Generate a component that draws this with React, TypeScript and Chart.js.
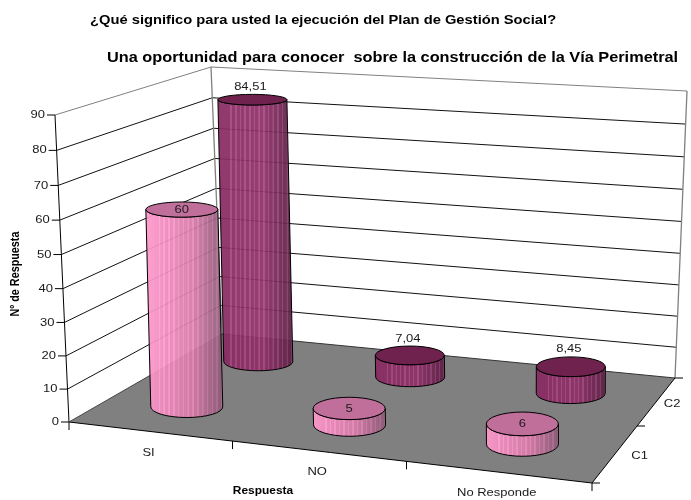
import React, { useEffect, useRef } from "react";
import { Chart, registerables } from "chart.js";

Chart.register(...registerables);

const TITLE = "¿Qué significo para usted la ejecución del Plan de Gestión Social?";
const SUBTITLE = "Una oportunidad para conocer  sobre la construcción de la Vía Perimetral";
const CATEGORIES = ["SI", "NO", "No Responde"];
const C1_VALUES = [60, 5, 6];
const C2_VALUES = [84.51, 7.04, 8.45];
const X_TITLE = "Respuesta";
const Y_TITLE = "Nº de Respuesta";
const FONT = '"Liberation Sans", Arial, sans-serif';
const TEXT_STRETCH = 1.15;

type Pt = [number, number];
const FLOOR: Pt[] = [[69, 422], [592, 483], [675, 378], [222, 334]];
const CEIL: Pt[] = [[55, 115], [598, 153], [687, 91], [211, 67]];
const DEPTH = [0.24, 0.74];
const DEPTH_LABEL_DX = [25, 16];
const BAR_RX = [36, 34.5];
const BAR_DV = 0.22;
const BAR_DU_SHIFT = -0.003;
const BAR_TILT = 0.5;
const W_PERSPECTIVE = 0.04;

function homography(q: Pt[]) {
  const [[x0, y0], [x1, y1], [x2, y2], [x3, y3]] = q;
  const dx1 = x1 - x2, dx2 = x3 - x2, sx = x0 - x1 + x2 - x3;
  const dy1 = y1 - y2, dy2 = y3 - y2, sy = y0 - y1 + y2 - y3;
  const den = dx1 * dy2 - dx2 * dy1;
  const g = (sx * dy2 - dx2 * sy) / den;
  const h = (dx1 * sy - sx * dy1) / den;
  const a = x1 - x0 + g * x1, b = x3 - x0 + h * x3;
  const d = y1 - y0 + g * y1, e = y3 - y0 + h * y3;
  return (u: number, v: number): Pt => {
    const w = g * u + h * v + 1;
    return [(a * u + b * v + x0) / w, (d * u + e * v + y0) / w];
  };
}
const H0 = homography(FLOOR);
const H1 = homography(CEIL);
const P = (u: number, v: number, w0: number): Pt => {
  const w = (w0 * (1 - W_PERSPECTIVE)) / (1 - W_PERSPECTIVE * w0);
  const a = H0(u, v), b = H1(u, v);
  return [a[0] + (b[0] - a[0]) * w, a[1] + (b[1] - a[1]) * w];
};

function line(ctx: CanvasRenderingContext2D, a: Pt, b: Pt, color: string, lw = 1) {
  ctx.strokeStyle = color;
  ctx.lineWidth = lw;
  ctx.beginPath();
  ctx.moveTo(a[0], a[1]);
  ctx.lineTo(b[0], b[1]);
  ctx.stroke();
}
function poly(ctx: CanvasRenderingContext2D, pts: Pt[], fill: string) {
  ctx.fillStyle = fill;
  ctx.beginPath();
  pts.forEach((p, i) => (i ? ctx.lineTo(p[0], p[1]) : ctx.moveTo(p[0], p[1])));
  ctx.closePath();
  ctx.fill();
}
function text(ctx: CanvasRenderingContext2D, s: string, x: number, y: number, font: string, align: CanvasTextAlign = "center", color = "#1a1a1a", rotate = 0) {
  ctx.save();
  ctx.font = font;
  ctx.fillStyle = color;
  ctx.textAlign = align;
  ctx.textBaseline = "middle";
  ctx.translate(x, y);
  ctx.scale(TEXT_STRETCH, 1);
  ctx.rotate(rotate);
  ctx.fillText(s, 0, 0);
  ctx.restore();
}

type Ramp = { left: number[]; mid: number[]; right: number[]; top: string; streak: number };
const RAMPS: Ramp[] = [
  { left: [255, 152, 204], mid: [214, 122, 168], right: [140, 88, 118], top: "#c06f9b", streak: 16 },
  { left: [136, 42, 98], mid: [142, 48, 104], right: [92, 30, 68], top: "#6f224d", streak: 24 },
];
function rampColor(r: Ramp, t: number, extra = 0) {
  const [a, b, k] = t < 0.6 ? [r.left, r.mid, t / 0.6] : [r.mid, r.right, (t - 0.6) / 0.4];
  const c = a.map((v, i) => Math.min(255, Math.round(v + (b[i] - v) * k + extra)));
  return `rgb(${c[0]},${c[1]},${c[2]})`;
}

function cylinder(ctx: CanvasRenderingContext2D, u0: number, v: number, w: number, ramp: Ramp, rx: number) {
  const u = u0 + BAR_DU_SHIFT;
  const base = P(u, v, 0);
  const ell = (wv: number) => {
    const c = P(u, v, wv);
    const n = P(u, v - BAR_DV / 2, wv), f = P(u, v + BAR_DV / 2, wv);
    return { x: base[0] + (c[0] - base[0]) * BAR_TILT, y: c[1], rx, ry: Math.abs(n[1] - f[1]) / 2 };
  };
  const b = ell(0), t = ell(w);
  const x0 = Math.min(b.x - b.rx, t.x - t.rx), x1 = Math.max(b.x + b.rx, t.x + t.rx);
  const g = ctx.createLinearGradient(x0, 0, x1, 0);
  const N = 16;
  for (let i = 0; i < N; i++) {
    const s = i / N, e = (i + 1) / N;
    const hi = ramp.streak * (s < 0.08 ? 0 : 1);
    g.addColorStop(s, rampColor(ramp, s));
    g.addColorStop(e - 0.022, rampColor(ramp, e - 0.022));
    g.addColorStop(e - 0.02, rampColor(ramp, e - 0.02, hi));
    g.addColorStop(e - 0.001, rampColor(ramp, e - 0.001, hi));
  }
  const side = () => {
    ctx.beginPath();
    ctx.moveTo(t.x - t.rx, t.y);
    ctx.lineTo(b.x - b.rx, b.y);
    ctx.ellipse(b.x, b.y, b.rx, b.ry, 0, Math.PI, 0, true);
    ctx.lineTo(t.x + t.rx, t.y);
    ctx.ellipse(t.x, t.y, t.rx, t.ry, 0, 0, Math.PI, false);
    ctx.closePath();
  };
  ctx.save();
  ctx.globalAlpha = 0.93;
  ctx.fillStyle = g;
  side();
  ctx.fill();
  ctx.restore();
  ctx.strokeStyle = "#000";
  ctx.lineWidth = 1;
  side();
  ctx.stroke();
  ctx.fillStyle = ramp.top;
  ctx.beginPath();
  ctx.ellipse(t.x, t.y, t.rx, t.ry, 0, 0, Math.PI * 2);
  ctx.fill();
  ctx.stroke();
  return t;
}

const scene3d = {
  id: "scene3d",
  beforeDatasetsDraw(chart: any) {
    const ctx: CanvasRenderingContext2D = chart.ctx;
    const xs = chart.scales.x, ys = chart.scales.y;
    const wOf = (val: number) => (ys.bottom - ys.getPixelForValue(val)) / (ys.bottom - ys.top);
    const uOf = (i: number) => (xs.getPixelForValue(i) - xs.left) / (xs.right - xs.left);
    ctx.save();

    text(ctx, TITLE, 90, 20, `bold 12.8px ${FONT}`, "left", "#000");
    text(ctx, SUBTITLE, 392.5, 58, `bold 14.2px ${FONT}`, "center", "#000");

    // floor
    poly(ctx, [P(0, 0, 0), P(1, 0, 0), P(1, 1, 0), P(0, 1, 0)], "#808080");

    // gridlines on both walls, and the value axis
    ys.ticks.forEach((tk: any) => {
      const w = wOf(tk.value);
      const top = tk.value === ys.max;
      if (tk.value !== 0) {
        line(ctx, P(0, 0, w), P(0, 1, w), top ? "#808080" : "#111");
        line(ctx, P(0, 1, w), P(1, 1, w), top ? "#808080" : "#111");
      }
      const p = P(0, 0, w);
      line(ctx, [p[0] - 8, p[1]], p, "#000");
      text(ctx, String(tk.value), p[0] - 10, p[1], `11.3px ${FONT}`, "right");
    });
    line(ctx, P(0, 1, 0), P(0, 1, 1), "#808080", 1.3);
    line(ctx, P(1, 1, 0), P(1, 1, 1), "#808080", 1.3);
    line(ctx, P(0, 1, 0), P(1, 1, 0), "#333");

    // frame and axes
    line(ctx, P(0, 0, 0), P(0, 0, 1), "#000");
    line(ctx, P(0, 0, 0), P(1, 0, 0), "#000");
    line(ctx, P(1, 0, 0), P(1, 1, 0), "#000");
    line(ctx, P(0, 1, 0), P(0, 0, 0), "#444");

    // category axis
    const ticks = CATEGORIES.length;
    for (let i = 0; i <= ticks; i++) {
      const p = P(i / ticks, 0, 0);
      line(ctx, p, [p[0], p[1] + 8], "#000");
    }
    CATEGORIES.forEach((c, i) => {
      const p = P(uOf(i), 0, 0);
      text(ctx, c, p[0] - 1, p[1] + 21, `11.3px ${FONT}`);
    });

    // depth axis
    const dsets = chart.data.datasets;
    [0, 0.5, 1].forEach((v) => {
      const p = P(1, v, 0);
      line(ctx, p, [p[0] + 8, p[1]], "#000");
    });
    dsets.forEach((d: any, i: number) => {
      const p = P(1, DEPTH[i], 0);
      text(ctx, d.label, p[0] + DEPTH_LABEL_DX[i], p[1] + 2, `11.3px ${FONT}`);
    });

    text(ctx, X_TITLE, 263, 491, `bold 10.4px ${FONT}`, "center", "#000");
    text(ctx, Y_TITLE, 16, 274, `bold 10.8px ${FONT}`, "center", "#000", -Math.PI / 2);

    // cylinders, back series first
    const labels: [string, number, number][] = [];
    for (let s = dsets.length - 1; s >= 0; s--) {
      dsets[s].data.forEach((val: number, i: number) => {
        const t = cylinder(ctx, uOf(i), DEPTH[s], wOf(val), RAMPS[s], BAR_RX[s]);
        labels.push([String(val).replace(".", ","), t.x - (s === 1 ? 2 : 0), t.y - (s === 1 ? t.ry + 7.5 : 0)]);
      });
    }
    labels.forEach(([s, x, y]) => text(ctx, s, x, y, `11.3px ${FONT}`));
    ctx.restore();
  },
};

export default function App() {
  const ref = useRef<HTMLCanvasElement>(null);
  useEffect(() => {
    document.body.style.margin = "0";
    const chart = new Chart(ref.current!, {
      type: "bar",
      data: {
        labels: CATEGORIES,
        datasets: [
          { label: "C1", data: C1_VALUES, backgroundColor: "transparent" },
          { label: "C2", data: C2_VALUES, backgroundColor: "transparent" },
        ],
      },
      options: {
        animation: false,
        responsive: false,
        devicePixelRatio: 1,
        layout: { padding: { left: 69, right: 99, top: 115, bottom: 78 } },
        plugins: { legend: { display: false }, title: { display: false }, tooltip: { enabled: false } },
        scales: {
          x: { display: false },
          y: { display: false, min: 0, max: 90, ticks: { stepSize: 10 } },
        },
      },
      plugins: [scene3d],
    } as any);
    return () => chart.destroy();
  }, []);
  return <canvas ref={ref} width={691} height={500} style={{ display: "block" }} />;
}
